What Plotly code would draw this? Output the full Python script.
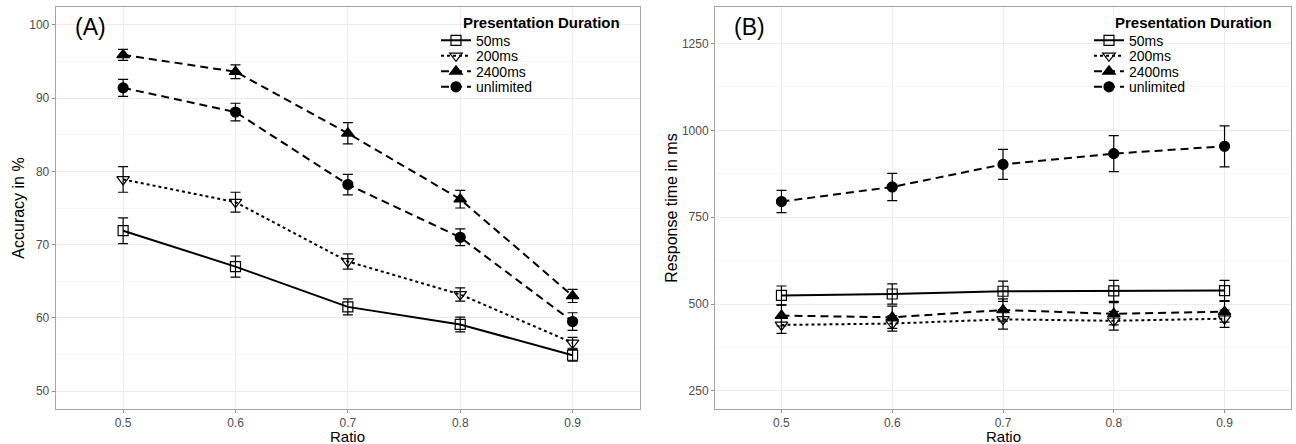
import plotly.graph_objects as go

# Ratio levels (discrete x axis)
ratio = ["0.5", "0.6", "0.7", "0.8", "0.9"]
durations = ["50ms", "200ms", "2400ms", "unlimited"]

# Panel A: accuracy (%) with standard errors
acc_50 = [71.9, 67.0, 61.5, 59.1, 54.9]
acc_50_se = [1.75, 1.45, 1.1, 1.0, 0.8]
acc_200 = [78.9, 75.8, 67.7, 63.2, 56.6]
acc_200_se = [1.75, 1.35, 1.05, 0.9, 0.75]
acc_2400 = [95.9, 93.6, 85.2, 76.2, 63.0]
acc_2400_se = [0.75, 0.95, 1.45, 1.2, 0.9]
acc_unl = [91.4, 88.1, 78.2, 71.0, 59.5]
acc_unl_se = [1.15, 1.2, 1.4, 1.15, 1.2]

# Panel B: response time (ms) with standard errors
rt_50 = [525, 529, 537, 538, 539]
rt_50_se = [27, 29, 29, 30, 29]
rt_200 = [440, 444, 456, 452, 458]
rt_200_se = [24, 22, 28, 27, 25]
rt_2400 = [467, 462, 483, 472, 478]
rt_2400_se = [30, 32, 32, 32, 30]
rt_unl = [795, 837, 902, 933, 954]
rt_unl_se = [32, 39, 43, 52, 59]

acc_ticks = [50, 60, 70, 80, 90, 100]
rt_ticks = [250, 500, 750, 1000, 1250]

FONT = "Liberation Sans, Arial, Helvetica, sans-serif"
W, H = 1296, 444

styles = {
    "50ms": dict(symbol="square-open", size=10, dash="solid"),
    "200ms": dict(symbol="triangle-down-open", size=11, dash="3px,3px"),
    "2400ms": dict(symbol="triangle-up", size=11, dash="8px,5px"),
    "unlimited": dict(symbol="circle", size=10, dash="8px,5px"),
}

acc_series = {"50ms": (acc_50, acc_50_se), "200ms": (acc_200, acc_200_se),
              "2400ms": (acc_2400, acc_2400_se), "unlimited": (acc_unl, acc_unl_se)}
rt_series = {"50ms": (rt_50, rt_50_se), "200ms": (rt_200, rt_200_se),
             "2400ms": (rt_2400, rt_2400_se), "unlimited": (rt_unl, rt_unl_se)}

# Legend key rows (pixel centres from the top) and left edges per panel
key_rows = [40.7, 56.2, 71.7, 87.2]
key_left = {"A": 436, "B": 1089}
title_left = {"A": 461, "B": 1113}
legend_box = {"A": (458, 627), "B": (1110, 1280)}

fig = go.Figure()
legends = {}


def add_panel(series, xa, ya, panel, first_legend):
    for i, name in enumerate(durations):
        vals, se = series[name]
        st = styles[name]
        lg_id = first_legend + i
        lg_name = "legend" if lg_id == 1 else f"legend{lg_id}"
        legends[lg_name] = dict(
            x=key_left[panel] / W, y=1 - key_rows[i] / H,
            xanchor="left", yanchor="middle",
            bgcolor="rgba(0,0,0,0)", borderwidth=0, itemwidth=30,
            font=dict(family=FONT, size=14, color="black"),
        )
        fig.add_trace(go.Scatter(
            x=ratio, y=vals, name=name, xaxis=xa, yaxis=ya,
            legend=lg_name, showlegend=True,
            mode="lines+markers",
            line=dict(color="black", width=2, dash=st["dash"]),
            marker=dict(symbol=st["symbol"], size=st["size"], color="black",
                        line=dict(color="black", width=1.2)),
            error_y=dict(type="data", array=se, visible=True, color="black",
                         thickness=1.2, width=5),
        ))


add_panel(acc_series, "x", "y", "A", 1)
add_panel(rt_series, "x2", "y2", "B", 5)

top, bottom = 7.3, 408.7
ydom = [1 - bottom / H, 1 - top / H]

axis_common = dict(
    showline=True, mirror=True, linecolor="#a6a6a6", linewidth=1,
    ticks="outside", ticklen=3, tickcolor="#8c8c8c", tickwidth=1,
    tickfont=dict(family=FONT, size=12, color="#4d4d4d"),
    gridcolor="#ebebeb", gridwidth=1, zeroline=False, automargin=False,
)

xcommon = dict(axis_common, type="category", range=[-0.6, 4.6])

annotations = []
shapes = []
for panel, xd, yd in (("A", "x domain", "y domain"), ("B", "x2 domain", "y2 domain")):
    annotations.append(dict(
        text=f"({panel})", xref=xd, yref=yd, x=0.029, y=0.951,
        xanchor="left", yanchor="middle", showarrow=False,
        font=dict(family=FONT, size=23, color="black")))
    annotations.append(dict(
        text="<b>Presentation Duration</b>", xref="paper", yref="paper",
        x=title_left[panel] / W, y=1 - 22.7 / H, xanchor="left", yanchor="middle",
        showarrow=False,
        font=dict(family=FONT, size=15, color="black")))
    annotations.append(dict(
        text="Ratio", xref=xd, yref="paper", x=0.5, y=0,
        xanchor="center", yanchor="bottom", showarrow=False, yshift=-3,
        font=dict(family=FONT, size=15, color="black")))
    # white legend backdrop over the grid
    x0, x1 = legend_box[panel]
    shapes.append(dict(
        type="rect", xref="paper", yref="paper", layer="between",
        x0=x0 / W, x1=x1 / W, y0=1 - 96 / H, y1=1 - 12 / H,
        fillcolor="white", line=dict(width=0)))

fig.update_layout(
    width=W, height=H,
    showlegend=True,
    margin=dict(l=0, r=0, t=0, b=0),
    paper_bgcolor="white", plot_bgcolor="white",
    font=dict(family=FONT, color="black"),
    xaxis=dict(xcommon, domain=[55.7 / W, 640 / W], anchor="y"),
    xaxis2=dict(xcommon, domain=[715 / W, 1291 / W], anchor="y2"),
    yaxis=dict(axis_common, domain=ydom, anchor="x", range=[47.6, 102.4],
               tickvals=acc_ticks,
               minor=dict(showgrid=True, gridcolor="#f5f5f5", dtick=5, tick0=0),
               title=dict(text="Accuracy in %", font=dict(family=FONT, size=16, color="black"),
                          standoff=0)),
    yaxis2=dict(axis_common, domain=ydom, anchor="x2", range=[199, 1354],
                tickvals=rt_ticks,
                minor=dict(showgrid=True, gridcolor="#f5f5f5", dtick=125, tick0=0),
                title=dict(text="Response time in ms", font=dict(family=FONT, size=16, color="black"),
                           standoff=0)),
    annotations=annotations,
    shapes=shapes,
    **legends,
)

fig.write_html("out.html")
